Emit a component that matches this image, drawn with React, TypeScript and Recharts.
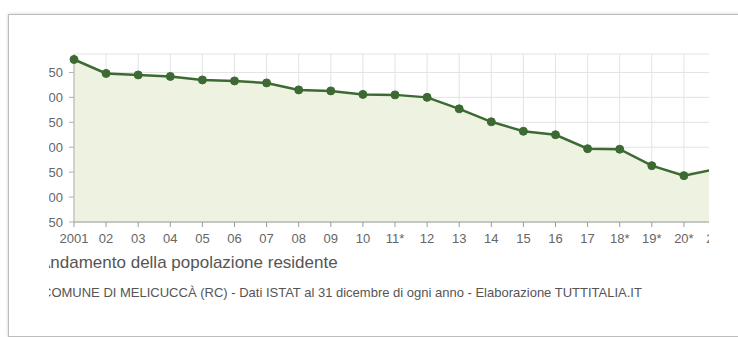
import { AreaChart, Area, XAxis, YAxis, CartesianGrid } from 'recharts';

// Resident population, Melicuccà (RC), 31 December of each year
const years = ['2001', '02', '03', '04', '05', '06', '07', '08', '09', '10', '11*', '12', '13', '14', '15', '16', '17', '18*', '19*', '20*', '21*'];
const residents = [1076, 1048, 1045, 1042, 1035, 1033, 1029, 1015, 1013, 1006, 1005, 1000, 977, 951, 932, 925, 897, 896, 863, 843, 856];
const yTicks = [750, 800, 850, 900, 950, 1000, 1050];

const data = years.map((year, i) => ({ year, residents: residents[i] }));

// Italian thousands separator
const fmt = (v: number) => (v >= 1000 ? `${Math.floor(v / 1000)}.${String(v % 1000).padStart(3, '0')}` : String(v));

const CLIP_LEFT = 49;

export default function App() {
    return (
        <div style={{ position: 'absolute', left: 0, top: 0, width: 738, height: 337, overflow: 'hidden', background: '#fff', fontFamily: '"Liberation Sans", Arial, sans-serif' }}>
            {/* card frame */}
            <div style={{ position: 'absolute', left: 8, top: 14, width: 800, height: 321, border: '1px solid #bdbdbd', boxShadow: '0 0 3px rgba(0,0,0,0.2)', background: '#fff' }} />

            {/* visible window of the chart, cropped as in the screenshot */}
            <div style={{ position: 'absolute', left: CLIP_LEFT, top: 15, width: 709 - CLIP_LEFT, height: 320, overflow: 'hidden' }}>
                <div style={{ position: 'absolute', left: -CLIP_LEFT, top: -15, width: 760, height: 337 }}>
                    <AreaChart width={740} height={252} data={data} margin={{ top: 54, right: 24, bottom: 0, left: 14 }}>
                        <CartesianGrid stroke="#e3e3e3" />
                        <XAxis
                            dataKey="year"
                            interval={0}
                            height={30}
                            tickSize={5}
                            tickMargin={7}
                            stroke="#9c9c9c"
                            tick={{ fill: '#666', fontSize: 13 }}
                        />
                        <YAxis
                            type="number"
                            domain={[750, 1087]}
                            ticks={yTicks}
                            tickFormatter={fmt}
                            width={60}
                            tickSize={5}
                            tickMargin={6}
                            stroke="#b0b0b0"
                            tick={{ fill: '#666', fontSize: 13 }}
                        />
                        <Area
                            type="linear"
                            dataKey="residents"
                            stroke="#3d6a33"
                            strokeWidth={2.5}
                            fill="#eef2e1"
                            fillOpacity={1}
                            dot={{ r: 4, fill: '#3d6a33', stroke: '#3d6a33', strokeWidth: 1 }}
                            isAnimationActive={false}
                        />
                    </AreaChart>
                    <div style={{ position: 'absolute', left: 39, top: 254, fontSize: 17, lineHeight: '17px', color: '#555', whiteSpace: 'nowrap' }}>
                        Andamento della popolazione residente
                    </div>
                    <div style={{ position: 'absolute', left: 42, top: 286, fontSize: 13, lineHeight: '13px', color: '#555', whiteSpace: 'nowrap' }}>
                        COMUNE DI MELICUCCÀ (RC) - Dati ISTAT al 31 dicembre di ogni anno - Elaborazione TUTTITALIA.IT
                    </div>
                </div>
            </div>
        </div>
    );
}
